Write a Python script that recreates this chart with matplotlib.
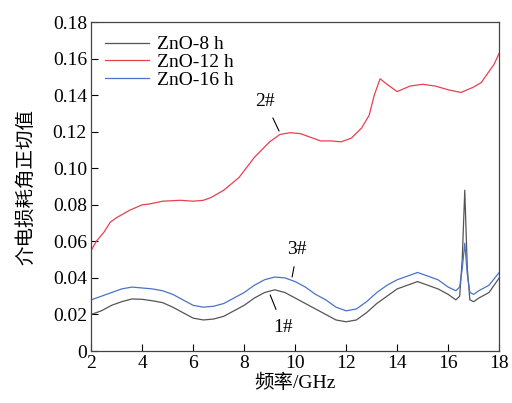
import matplotlib
matplotlib.use('Agg')
import matplotlib.pyplot as plt

# ZnO-8 h (1#)
x_8h = [2.0, 2.4, 2.8, 3.2, 3.6, 4.0, 4.4, 4.8, 5.2, 5.6, 6.0, 6.4, 6.8, 7.2, 7.6, 8.0,
        8.4, 8.8, 9.2, 9.6, 10.0, 10.4, 10.8, 11.2, 11.6, 12.0, 12.4, 12.8, 13.2, 13.6,
        14.0, 14.4, 14.8, 15.2, 15.6, 16.0, 16.3, 16.45, 16.55, 16.65, 16.75, 16.85,
        17.0, 17.2, 17.6, 18.0]
y_8h = [0.020, 0.022, 0.025, 0.027, 0.0285, 0.0283, 0.0275, 0.0265, 0.024, 0.021, 0.018,
        0.017, 0.0175, 0.019, 0.022, 0.025, 0.029, 0.032, 0.0335, 0.032, 0.029, 0.026,
        0.023, 0.020, 0.017, 0.016, 0.017, 0.021, 0.026, 0.030, 0.034, 0.036, 0.038,
        0.036, 0.034, 0.031, 0.028, 0.030, 0.050, 0.088, 0.045, 0.028, 0.027, 0.029,
        0.032, 0.040]

# ZnO-16 h (3#)
x_16h = x_8h
y_16h = [0.028, 0.030, 0.032, 0.034, 0.035, 0.0345, 0.034, 0.033, 0.031, 0.028, 0.025,
         0.024, 0.0245, 0.026, 0.029, 0.032, 0.036, 0.039, 0.0405, 0.040, 0.038, 0.035,
         0.031, 0.028, 0.024, 0.022, 0.023, 0.027, 0.032, 0.036, 0.039, 0.041, 0.043,
         0.041, 0.039, 0.035, 0.033, 0.035, 0.045, 0.059, 0.042, 0.032, 0.031, 0.033,
         0.036, 0.043]

# ZnO-12 h (2#)
x_12h = [2.0, 2.2, 2.5, 2.75, 3.0, 3.5, 4.0, 4.3, 4.8, 5.5, 6.0, 6.4, 6.7, 7.2, 7.8, 8.4,
         9.0, 9.4, 9.8, 10.2, 10.6, 11.0, 11.4, 11.8, 12.2, 12.6, 12.9, 13.1, 13.33,
         13.6, 14.0, 14.5, 15.0, 15.5, 16.0, 16.5, 17.0, 17.3, 17.6, 17.8, 18.0]
y_12h = [0.055, 0.060, 0.065, 0.0705, 0.073, 0.077, 0.080, 0.0805, 0.082, 0.0825, 0.082,
         0.0825, 0.084, 0.088, 0.095, 0.106, 0.1145, 0.1185, 0.1195, 0.119, 0.117, 0.115,
         0.115, 0.1145, 0.1165, 0.122, 0.129, 0.140, 0.149, 0.146, 0.142, 0.145, 0.146,
         0.145, 0.143, 0.1415, 0.1445, 0.147, 0.153, 0.157, 0.163]

plt.rcParams['font.family'] = ['Liberation Serif', 'Noto Sans CJK SC']
plt.rcParams['font.size'] = 14

fig = plt.figure(figsize=(5.12, 4.03), dpi=100)
ax = fig.add_axes([0.178, 0.129, 0.797, 0.816])

ax.plot(x_8h, y_8h, color='#555555', lw=0.9, label='ZnO-8 h')
ax.plot(x_12h, y_12h, color='#e8404f', lw=0.9, label='ZnO-12 h')
ax.plot(x_16h, y_16h, color='#4a72c8', lw=0.9, label='ZnO-16 h')

ax.set_xlim(2, 18)
ax.set_ylim(0, 0.18)
ax.set_xticks(range(2, 19, 2))
ax.set_yticks([0, 0.02, 0.04, 0.06, 0.08, 0.10, 0.12, 0.14, 0.16, 0.18])
ax.set_yticklabels(['0', '0.02', '0.04', '0.06', '0.08', '0.10', '0.12', '0.14', '0.16', '0.18'])
ax.tick_params(direction='in', length=5, width=0.8, labelsize=14, pad=3)
for s in ax.spines.values():
    s.set_color('#444444')
    s.set_linewidth(0.9)

ax.set_xlabel('频率/GHz', fontsize=14, labelpad=1)
ax.set_ylabel('介电损耗角正切值', fontsize=14, family=['Noto Sans CJK SC'], labelpad=12)

ax.legend(loc='upper left', frameon=False, fontsize=14, handlelength=2.3,
          labelspacing=0.0, borderaxespad=0.3, handletextpad=0.4)

# sample labels
ax.annotate('2#', xy=(9.37, 0.1204), xytext=(8.82, 0.1365), ha='center', va='center',
            arrowprops=dict(arrowstyle='-', color='black', lw=0.8, shrinkA=4, shrinkB=0))
ax.annotate('3#', xy=(9.88, 0.0405), xytext=(10.08, 0.0553), ha='center', va='center',
            arrowprops=dict(arrowstyle='-', color='black', lw=0.8, shrinkA=4, shrinkB=0))
ax.annotate('1#', xy=(9.02, 0.0307), xytext=(9.53, 0.0131), ha='center', va='center',
            arrowprops=dict(arrowstyle='-', color='black', lw=0.8, shrinkA=5, shrinkB=0))

fig.savefig('out.png', dpi=100)
